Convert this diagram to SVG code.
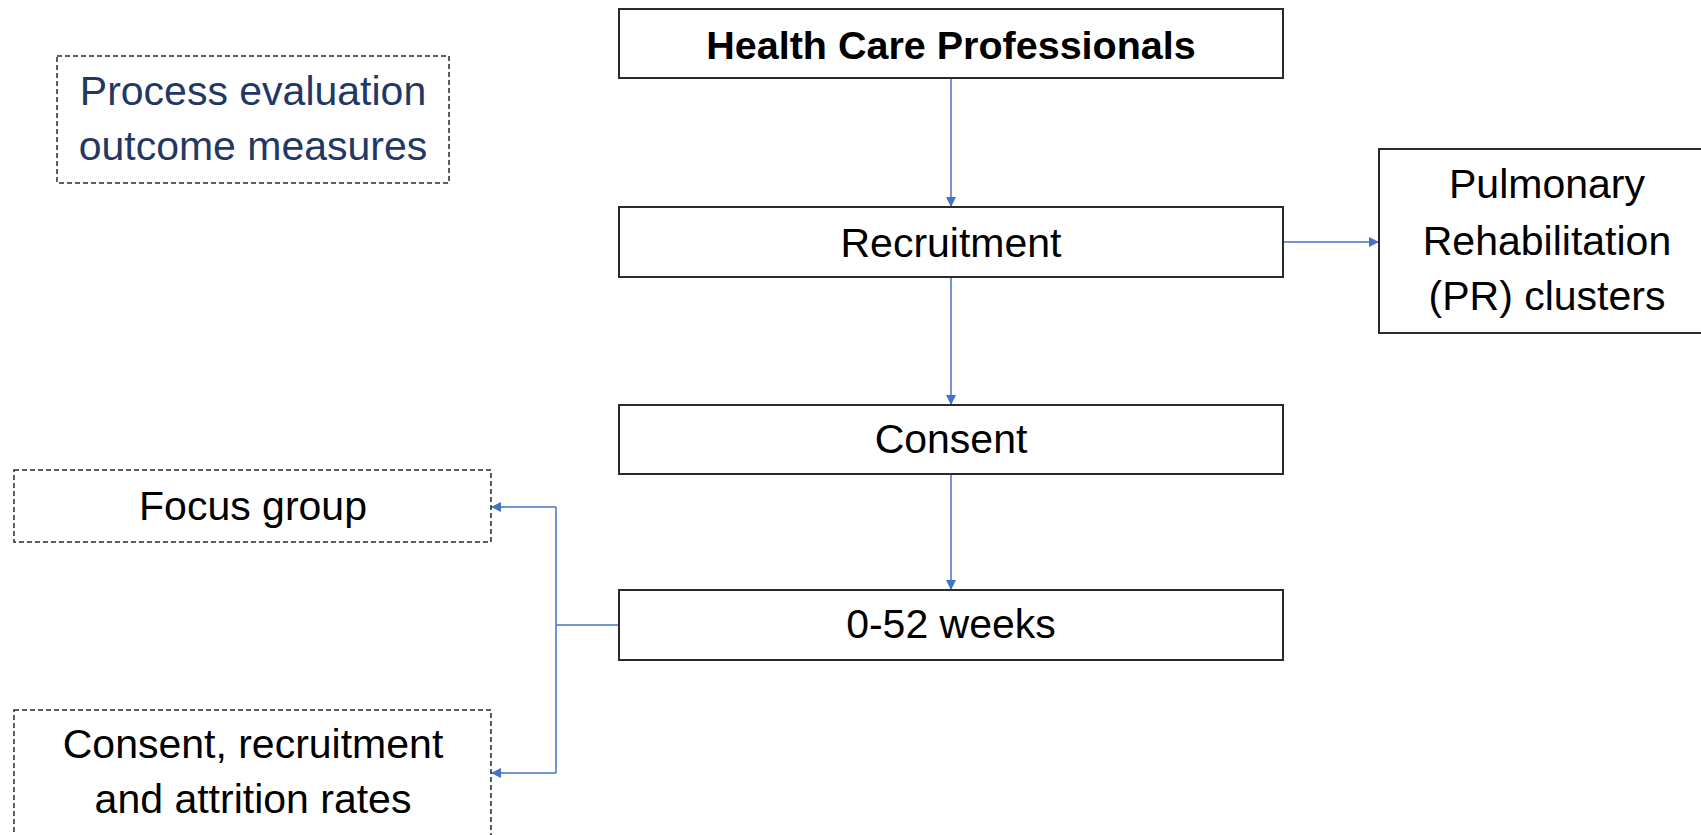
<svg xmlns="http://www.w3.org/2000/svg" width="1701" height="835" viewBox="0 0 1701 835">
  <defs>
    <style>
      .box { fill: #ffffff; stroke: #2b2b2b; stroke-width: 2; }
      .dash { fill: #ffffff; stroke: #2b2b2b; stroke-width: 1.5; stroke-dasharray: 5 3; }
      .lbl { font-family: "Liberation Sans", Arial, sans-serif; font-size: 41px; fill: #000000; text-anchor: middle; }
      .bold { font-weight: bold; font-size: 39.5px; }
      .navy { fill: #1f3864; }
      .link { fill: none; stroke: #4472c4; stroke-width: 1.5; }
    </style>
    <marker id="arrow" viewBox="0 0 10 10" refX="10" refY="5" markerWidth="10" markerHeight="10" markerUnits="userSpaceOnUse" orient="auto">
      <path d="M0,0 L10,5 L0,10 z" fill="#4472c4"/>
    </marker>
  </defs>

  <!-- connectors -->
  <g id="connectors">
    <path class="link" d="M951,78 V207" marker-end="url(#arrow)"/>
    <path class="link" d="M951,277 V405" marker-end="url(#arrow)"/>
    <path class="link" d="M951,474 V590" marker-end="url(#arrow)"/>
    <path class="link" d="M1283,242 H1379" marker-end="url(#arrow)"/>
    <path class="link" d="M619,625 H556"/>
    <path class="link" d="M556,507 V773"/>
    <path class="link" d="M556,507 H491" marker-end="url(#arrow)"/>
    <path class="link" d="M556,773 H491" marker-end="url(#arrow)"/>
  </g>

  <g id="process-evaluation">
    <rect class="dash" x="57" y="56" width="392" height="127"/>
    <text class="lbl navy" x="253" y="105">Process evaluation</text>
    <text class="lbl navy" x="253" y="160">outcome measures</text>
  </g>

  <g id="health-care-professionals">
    <rect class="box" x="619" y="9" width="664" height="69"/>
    <text class="lbl bold" x="951" y="59">Health Care Professionals</text>
  </g>

  <g id="recruitment">
    <rect class="box" x="619" y="207" width="664" height="70"/>
    <text class="lbl" x="951" y="257">Recruitment</text>
  </g>

  <!-- this box runs on past the right border -->
  <g id="pr-clusters">
    <rect class="box" x="1379" y="149" width="340" height="184"/>
    <text class="lbl" x="1547" y="198">Pulmonary</text>
    <text class="lbl" x="1547" y="255">Rehabilitation</text>
    <text class="lbl" x="1547" y="310">(PR) clusters</text>
  </g>

  <g id="consent">
    <rect class="box" x="619" y="405" width="664" height="69"/>
    <text class="lbl" x="951" y="453">Consent</text>
  </g>

  <g id="weeks">
    <rect class="box" x="619" y="590" width="664" height="70"/>
    <text class="lbl" x="951" y="638">0-52 weeks</text>
  </g>

  <g id="focus-group">
    <rect class="dash" x="14" y="470" width="477" height="72"/>
    <text class="lbl" x="253" y="520">Focus group</text>
  </g>

  <g id="rates">
    <rect class="dash" x="14" y="710" width="477" height="140"/>
    <text class="lbl" x="253" y="758">Consent, recruitment</text>
    <text class="lbl" x="253" y="813">and attrition rates</text>
  </g>
</svg>
